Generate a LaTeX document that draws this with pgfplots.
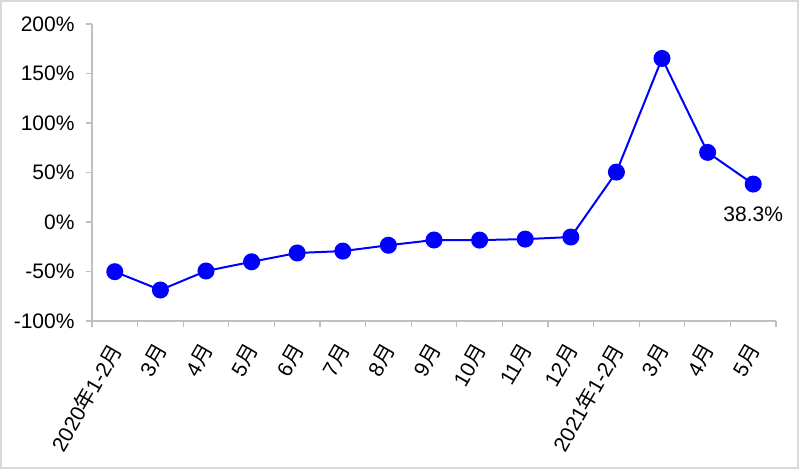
\documentclass[border=0pt]{standalone}
\usepackage{fontspec}
\setmainfont{Liberation Sans}
\newfontfamily\cjk{Noto Sans CJK SC}
\usepackage{pgfplots}
\pgfplotsset{compat=1.18}
\definecolor{framegray}{RGB}{217,217,217}
\definecolor{axisgray}{RGB}{191,191,191}
\definecolor{lineblue}{RGB}{0,0,255}
\newcommand{\yue}{{\cjk 月}}
\newcommand{\nian}{{\cjk 年}}

\begin{document}
\begin{tikzpicture}[x=1bp,y=1bp]
\draw[framegray, line width=2bp] (1,1) rectangle (798,468);
\begin{axis}[
  at={(92bp,148bp)}, anchor=south west,
  scale only axis, width=684bp, height=297bp,
  xmin=0, xmax=15, ymin=-100, ymax=200,
  axis x line*=bottom, axis y line*=left,
  axis line style={axisgray, line width=1.3bp},
  every tick/.style={axisgray, line width=1.3bp},
  tick align=outside,
  major tick length=6bp,
  tick label style={font=\fontsize{21bp}{25bp}\selectfont, text=black},
  xtick={0,1,...,15},
  xticklabels={},
  extra x ticks={0.5,1.5,...,14.5},
  extra x tick labels={2020\nian 1-2\yue,3\yue,4\yue,5\yue,6\yue,7\yue,8\yue,9\yue,10\yue,11\yue,12\yue,2021\nian 1-2\yue,3\yue,4\yue,5\yue},
  extra x tick style={major tick length=0pt,
    xticklabel style={xshift=2bp, yshift=-24bp, rotate=60, anchor=east, inner sep=1bp}},
  ytick={-100,-50,0,50,100,150,200},
  yticklabels={-100\%,-50\%,0\%,50\%,100\%,150\%,200\%},
  yticklabel style={xshift=-8bp},
  clip=false,
]
\addplot [lineblue, line width=2bp, mark=*, mark size=7.5bp,
  mark options={fill=lineblue, draw=lineblue}]
table {%
x y
0.5 -50.2
1.5 -68.7
2.5 -49.5
3.5 -40.2
4.5 -31.3
5.5 -29.4
6.5 -23.5
7.5 -18.2
8.5 -18.3
9.5 -17.3
10.5 -15.2
11.5 50.4
12.5 165.2
13.5 70.3
14.5 38.3
};
\node[below, yshift=-19bp, font=\fontsize{21bp}{25bp}\selectfont] at (axis cs:14.5,38.3) {38.3\%};
\end{axis}
\end{tikzpicture}
\end{document}
